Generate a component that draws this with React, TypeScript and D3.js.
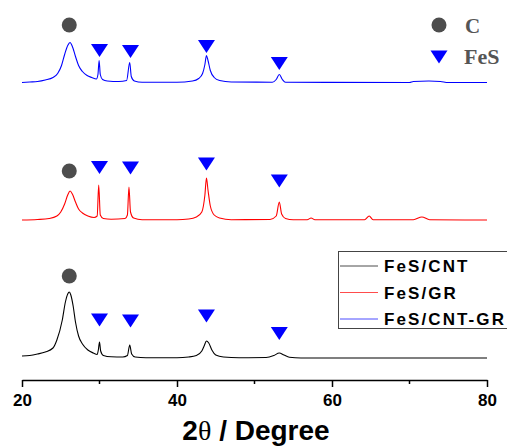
import React, { useEffect, useRef } from 'react';
import * as d3 from 'd3';

// XRD patterns: [2theta, intensity above own baseline]
const fesCnt = [[20, 2], [21, 2.5], [22, 4], [23, 6], [24, 10], [24.5, 18], [25.2, 38], [25.6, 56], [25.9, 64], [26.1, 66], [26.3, 63], [26.6, 52], [26.9, 36], [27.3, 22], [27.8, 14], [28.5, 8], [29.2, 5], [29.7, 3.5], [29.85, 8], [30.0, 16], [30.15, 7], [30.5, 2.5], [31.5, 1.2], [33, 1], [33.6, 2.5], [33.9, 13], [34.15, 4], [34.6, 1], [36, 0.3], [40, 0.3], [41.5, 1], [42.5, 2.5], [43.2, 7], [43.5, 12], [43.8, 17], [44.1, 15], [44.5, 8], [45, 3], [46, 1], [48, 0.3], [51.5, 0.5], [52.5, 2.5], [53.2, 5], [53.8, 3], [54.5, 0.8], [56, 0], [80, 0]];
const fesGr = [[20, 0], [22, 0.5], [23.5, 1.5], [24.5, 4], [25, 8], [25.5, 16], [25.9, 25], [26.2, 29], [26.5, 26], [26.9, 18], [27.3, 11], [27.8, 7], [28.5, 4], [29.3, 2.5], [29.7, 4], [29.9, 35], [30.1, 5], [30.5, 1.5], [31.5, 0.8], [33.3, 1.5], [33.6, 5], [33.8, 33], [34, 8], [34.4, 2], [35.5, 0.3], [40, 0.3], [41.5, 1], [42.5, 3], [43.2, 8], [43.6, 25], [43.8, 42], [44.0, 30], [44.3, 14], [44.8, 5], [45.5, 2], [47, 0.3], [52, 0.5], [52.8, 4], [53.2, 18], [53.5, 6], [54, 1.5], [55, 0.3], [56.8, 0.3], [57.3, 2], [57.8, 0.3], [64.2, 0.3], [64.8, 4], [65.3, 0.3], [70.5, 0.3], [71.6, 3], [72.6, 0.3], [80, 0]];
const fesCntGr = [[20, 0], [21, 0.5], [22, 1], [23, 2.5], [24, 5], [24.6, 9], [25.1, 17], [25.5, 28], [25.9, 37], [26.2, 40], [26.5, 36], [26.9, 26], [27.3, 17], [27.8, 11], [28.4, 7], [29, 5], [29.6, 3.5], [29.8, 8], [29.95, 22], [30.1, 8], [30.4, 3], [31, 1.5], [32.5, 1], [33.5, 2], [33.9, 20], [34.1, 6], [34.5, 1.5], [35.5, 0.3], [40, 0.3], [42, 1.5], [42.8, 4], [43.3, 9], [43.6, 18], [43.8, 27], [44.0, 22], [44.3, 12], [44.8, 5], [45.5, 2], [47, 0.5], [52.3, 0.3], [52.8, 3], [53.2, 8], [53.6, 3], [54, 0.3], [70, 0], [70.5, 1], [72.5, 1.5], [74, 1], [75, 0], [80, 0]];

const seriesNames = ['FeS/CNT', 'FeS/GR', 'FeS/CNT-GR'];
const seriesColors = ['#000000', '#ff0000', '#0000ff'];
const seriesOffsets = [22, 160, 297.5];
const seriesData = [fesCnt, fesGr, fesCntGr];

// marker positions (2theta) and their heights in the stacked frame
const carbonPeak = 26.1;
const carbonLevels = [104, 209, 355];
const fesPeaks = [30, 34, 43.8, 53.2];
const fesLevels = [
  [60, 59, 64, 46.5],
  [212.5, 212, 216, 199],
  [329.5, 328.5, 333.5, 316.5],
];

const xTicks = [20, 40, 60, 80];
const xMinor = [30, 50, 70];

export default function App() {
  const axisRef = useRef<SVGGElement>(null);

  const width = 507;
  const height = 446;
  const margin = { top: 20, right: 20, bottom: 66, left: 22 };

  const x = d3.scaleLinear().domain([20, 80]).range([margin.left, width - margin.right]);
  const y = d3.scaleLinear().domain([0, 360]).range([height - margin.bottom, margin.top]);

  useEffect(() => {
    const g = d3.select(axisRef.current);
    g.selectAll('*').remove();
    const axis = d3.axisBottom(x).tickValues(xTicks).tickSize(7).tickSizeOuter(0).tickFormat(d3.format('d'));
    g.call(axis);
    g.select('.domain').attr('stroke', '#000').attr('stroke-width', 1.5);
    g.selectAll('.tick line').attr('stroke', '#000').attr('stroke-width', 1.5);
    g.selectAll('.tick text')
      .attr('y', 14)
      .attr('dy', '0.71em')
      .attr('fill', '#000')
      .style('font-family', 'Liberation Sans, Arial, sans-serif')
      .style('font-weight', 'bold')
      .style('font-size', '17px');
    g.selectAll('.minor')
      .data(xMinor)
      .enter()
      .append('line')
      .attr('x1', (d) => x(d))
      .attr('x2', (d) => x(d))
      .attr('y1', 0)
      .attr('y2', 4)
      .attr('stroke', '#000')
      .attr('stroke-width', 1.5);
  }, []);

  const tri = 'M-8.5,-6.5L8.5,-6.5L0,6.5Z';

  return (
    <svg width={width} height={height} style={{ position: 'absolute', left: 0, top: 0 }}>
      <rect width={width} height={height} fill="#fff" />
      {seriesData.map((data, i) => {
        const line = d3
          .line<number[]>()
          .x((d) => x(d[0]))
          .y((d) => y(d[1] + seriesOffsets[i]))
          .curve(d3.curveMonotoneX);
        return <path key={i} d={line(data) || ''} fill="none" stroke={seriesColors[i]} strokeWidth={1.1} />;
      })}

      {carbonLevels.map((lv, i) => (
        <circle key={'c' + i} cx={x(carbonPeak)} cy={y(lv)} r={7.5} fill="#4d4d4d" />
      ))}
      {fesLevels.map((row, i) =>
        row.map((lv, j) => (
          <path key={'t' + i + j} d={tri} transform={`translate(${x(fesPeaks[j])},${y(lv)})`} fill="#0000ff" />
        ))
      )}

      {/* phase legend */}
      <circle cx={439} cy={25} r={7.5} fill="#4d4d4d" />
      <text x={465} y={33} fontFamily="Liberation Serif, Times New Roman, serif" fontWeight="bold" fontSize={21} fill="#555">C</text>
      <path d={tri} transform="translate(439,57)" fill="#0000ff" />
      <text x={464} y={64} fontFamily="Liberation Serif, Times New Roman, serif" fontWeight="bold" fontSize={22} fill="#555">FeS</text>

      {/* series legend */}
      <rect x={338.5} y={251.5} width={172} height={77} fill="#fff" stroke="#444" strokeWidth={1} />
      {seriesNames.map((name, i) => (
        <g key={name} transform={`translate(340,${266 + i * 26.5})`}>
          <line x1={0} x2={38} y1={0} y2={0} stroke={seriesColors[i]} strokeWidth={1} strokeOpacity={0.7} />
          <text x={44} y={6} fontFamily="Liberation Sans, Arial, sans-serif" fontWeight="bold" fontSize={17} letterSpacing={2.1} fill="#000">
            {name}
          </text>
        </g>
      ))}

      <g ref={axisRef} transform={`translate(0,${height - margin.bottom})`} />
      <text x={256} y={440} textAnchor="middle" fontFamily="Liberation Sans, Arial, sans-serif" fontWeight="bold" fontSize={28} fill="#000">
        2<tspan fontWeight="normal" fontFamily="Liberation Serif, Times New Roman, serif">θ</tspan> / Degree
      </text>
    </svg>
  );
}
